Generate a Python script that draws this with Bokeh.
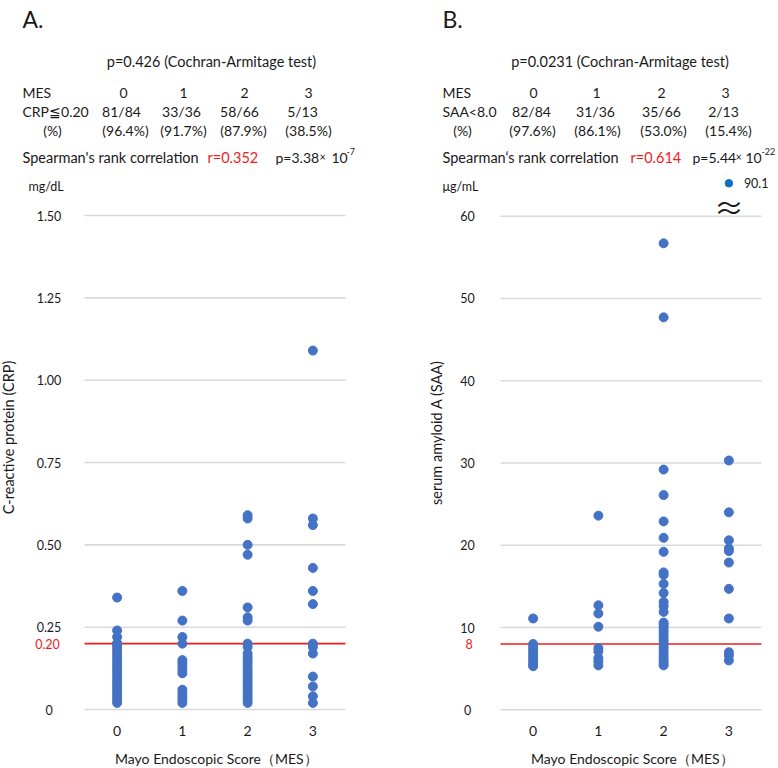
import math
from bokeh.plotting import figure
from bokeh.models import Range1d, Label
from bokeh.layouts import row
from bokeh.embed import file_html
from bokeh.resources import INLINE

# ---------------- data ----------------
mes_levels = [0, 1, 2, 3]
mes_tick_labels = ["0", "1", "2", "3"]

crp_mes0 = [0.34, 0.24, 0.22, 0.20, 0.20, 0.19, 0.18, 0.17, 0.16, 0.15, 0.14, 0.13, 0.12,
            0.11, 0.10, 0.09, 0.08, 0.07, 0.06, 0.05, 0.04, 0.03, 0.02]
crp_mes1 = [0.36, 0.27, 0.22, 0.20, 0.15, 0.14, 0.13, 0.12, 0.11, 0.06, 0.05, 0.04, 0.03, 0.02]
crp_mes2 = [0.59, 0.58, 0.50, 0.47, 0.31, 0.28, 0.27, 0.20, 0.19, 0.17, 0.16, 0.15, 0.14, 0.13,
            0.12, 0.11, 0.10, 0.09, 0.08, 0.07, 0.06, 0.05, 0.04, 0.03, 0.02]
crp_mes3 = [1.09, 0.58, 0.56, 0.43, 0.36, 0.32, 0.20, 0.19, 0.17, 0.10, 0.07, 0.04, 0.02]

saa_mes0 = [11.1, 8.0, 7.6, 7.2, 6.8, 6.4, 6.0, 5.6, 5.3]
saa_mes1 = [23.6, 12.7, 11.7, 10.1, 7.5, 7.1, 6.3, 5.9, 5.4]
saa_mes2 = [56.7, 47.7, 29.2, 26.1, 22.9, 20.9, 19.2, 16.7, 16.4, 15.3, 14.2, 13.1, 12.6, 11.9,
            10.6, 10.3, 10.0, 9.6, 9.2, 8.8, 8.4, 8.0, 7.6, 7.2, 6.8, 6.4, 6.0, 5.7, 5.4]
saa_mes3 = [90.1, 30.3, 24.0, 20.6, 19.6, 19.3, 17.9, 14.7, 11.1, 7.0, 6.6, 6.0]

crp_ticks = [0, 0.25, 0.50, 0.75, 1.00, 1.25, 1.50]
crp_tick_labels = ["0", "0.25", "0.50", "0.75", "1.00", "1.25", "1.50"]
crp_cutoff = 0.20
crp_cutoff_label = "0.20"

saa_ticks = [0, 10, 20, 30, 40, 50, 60]
saa_tick_labels = ["0", "10", "20", "30", "40", "50", "60"]
saa_cutoff = 8
saa_cutoff_label = "8"
saa_axis_break = 60          # values above this are drawn just above the axis break
saa_break_display = 64.0

x_title = "Mayo Endoscopic Score\uff08MES\uff09"

crp_y_title = "C-reactive protein (CRP)"
crp_title = "p=0.426 (Cochran-Armitage test)"
crp_row_name = "CRP\u22660.20"
crp_counts = ["81/84", "33/36", "58/66", "5/13"]
crp_pcts = ["(96.4%)", "(91.7%)", "(87.9%)", "(38.5%)"]
crp_spearman = "Spearman's rank correlation"
crp_r = "r=0.352"
crp_p, crp_p_exp = "p=3.38", "-7"
crp_unit = "mg/dL"

saa_y_title = "serum amyloid A (SAA)"
saa_title = "p=0.0231 (Cochran-Armitage test)"
saa_row_name = "SAA<8.0"
saa_counts = ["82/84", "31/36", "35/66", "2/13"]
saa_pcts = ["(97.6%)", "(86.1%)", "(53.0%)", "(15.4%)"]
saa_spearman = "Spearman\u2018s rank correlation"
saa_r = "r=0.614"
saa_p, saa_p_exp = "p=5.44", "-22"
saa_unit = "\u03bcg/mL"

# ---------------- style / layout ----------------
FONT = "Lato"
TXT = "#1A1A1A"
BLUE = "#4472C4"
BLUE2 = "#0F6FC6"
RED = "#EE1C1C"
GRID = "#D9D9D9"

FIG_W = 389
FIG_H = 768
UNIT_X = 65.25       # px per MES level


def build_panel(groups, ticks, tick_labels, cutoff, cutoff_label, y_title,
                fig_left, plot_left, y0_px, ppu, tick_cx, cut_cx, ytitle_pos,
                break_at=None, break_display=None):
    def xd(wx):
        return -0.5 + (wx - plot_left) / UNIT_X

    def yd(wy):
        return (y0_px - wy) / ppu

    p = figure(width=FIG_W, height=FIG_H, min_border=0,
               min_border_left=0, min_border_right=0, min_border_top=0, min_border_bottom=0,
               x_range=Range1d(xd(fig_left), xd(fig_left + FIG_W)),
               y_range=Range1d(yd(FIG_H), yd(0)),
               x_axis_location=None, y_axis_location=None,
               toolbar_location=None, output_backend="svg", tools="")
    p.outline_line_color = None
    p.background_fill_color = "white"
    p.border_fill_color = "white"
    p.grid.visible = False

    lo, hi = min(mes_levels) - 0.5, max(mes_levels) + 0.5

    def text(t, wx, wy, size, color=TXT, align="left", baseline="alphabetic",
             font=FONT, angle=0.0):
        p.add_layout(Label(x=xd(wx), y=yd(wy), text=t, text_font=font,
                           text_font_size=f"{size}px", text_color=color, angle=angle,
                           text_align=align, text_baseline=baseline))

    def dtext(t, x, y, size, color=TXT, align="center", baseline="middle", x_offset=0,
              font=FONT):
        p.add_layout(Label(x=x, y=y, text=t, text_font=font, x_offset=x_offset,
                           text_font_size=f"{size}px", text_color=color,
                           text_align=align, text_baseline=baseline))

    # horizontal grid lines at the value ticks
    p.segment(x0=[lo] * len(ticks), x1=[hi] * len(ticks), y0=ticks, y1=ticks,
              line_color=GRID, line_width=1.6)
    # value tick labels
    for t, lab in zip(ticks, tick_labels):
        dtext(lab, xd(tick_cx), t, 12.5)
    # cut-off line and its red label
    p.segment(x0=[lo], x1=[hi], y0=[cutoff], y1=[cutoff], line_color=RED, line_width=1.6)
    dtext(cutoff_label, xd(cut_cx), cutoff, 12.5, color=RED)

    # category tick labels and axis titles
    for lvl, lab in zip(mes_levels, mes_tick_labels):
        dtext(lab, lvl, yd(730), 14)
    dtext(x_title, (lo + hi) / 2 + 0.02, yd(758), 14)
    text(y_title, ytitle_pos[0], ytitle_pos[1], 14.5, align="center", baseline="middle",
         angle=math.pi / 2)

    # points
    xs, ys, ox, oy, ov = [], [], [], [], []
    for lvl, vals in zip(mes_levels, groups):
        for v in vals:
            if break_at is not None and v > break_at:
                ox.append(lvl)
                oy.append(break_display)
                ov.append(v)
            else:
                xs.append(lvl)
                ys.append(v)
    p.scatter(xs, ys, size=9, fill_color=BLUE, line_color=BLUE, marker="circle")
    if ox:
        p.scatter(ox, oy, size=7.5, fill_color=BLUE2, line_color=BLUE2, marker="circle")
        for x, y, v in zip(ox, oy, ov):
            dtext(f"{v:.1f}", x, y, 12.5, align="left", x_offset=15)
            # axis-break mark under the off-scale point
            dtext("\u2248", x, yd(205), 30, font="Noto Sans CJK JP")

    return p, text


# ---------------- panel A ----------------
pA, textA = build_panel(
    [crp_mes0, crp_mes1, crp_mes2, crp_mes3], crp_ticks, crp_tick_labels,
    crp_cutoff, crp_cutoff_label, crp_y_title,
    fig_left=0, plot_left=84, y0_px=709.0, ppu=329.3,
    tick_cx=48.5, cut_cx=47, ytitle_pos=(8, 437))

textA("A.", 22, 18, 23)
textA(crp_title, 211, 61, 14.5, align="center")
textA("MES", 22, 92, 14)
for t, cx in zip(mes_tick_labels, [123, 183, 244, 308]):
    textA(t, cx, 92, 14, align="center")
textA(crp_row_name, 22, 111, 14)
for t, cx in zip(crp_counts, [121, 181, 239, 302]):
    textA(t, cx, 111, 14, align="center")
textA("(%)", 52, 130, 14, align="center")
for t, cx in zip(crp_pcts, [125, 183, 243, 308]):
    textA(t, cx, 130, 14, align="center")
textA(crp_spearman, 22, 157, 14.5)
textA(crp_r, 207, 157, 14.5, color=RED)
textA(crp_p, 275, 157, 14)
textA("\u00d7", 319, 156, 11)
textA("10", 331, 157, 14)
textA(crp_p_exp, 346, 151, 9)
textA(crp_unit, 28, 186, 12.5)

# ---------------- panel B ----------------
pB, textB = build_panel(
    [saa_mes0, saa_mes1, saa_mes2, saa_mes3], saa_ticks, saa_tick_labels,
    saa_cutoff, saa_cutoff_label, saa_y_title,
    fig_left=389, plot_left=500, y0_px=709.3, ppu=8.227,
    tick_cx=467, cut_cx=468.5, ytitle_pos=(436, 432),
    break_at=saa_axis_break, break_display=saa_break_display)

textB("B.", 442, 18, 23)
textB(saa_title, 619.5, 61, 14.5, align="center")
textB("MES", 442, 92, 14)
for t, cx in zip(mes_tick_labels, [533, 596, 661, 725]):
    textB(t, cx, 92, 14, align="center")
textB(saa_row_name, 442, 111, 14)
for t, cx in zip(saa_counts, [531, 595, 661, 723]):
    textB(t, cx, 111, 14, align="center")
textB("(%)", 462, 130, 14, align="center")
for t, cx in zip(saa_pcts, [532, 597, 663, 728]):
    textB(t, cx, 130, 14, align="center")
textB(saa_spearman, 442, 157, 14.5)
textB(saa_r, 630, 157, 14.5, color=RED)
textB(saa_p, 692, 157, 14)
textB("\u00d7", 735, 156, 11)
textB("10", 745, 157, 14)
textB(saa_p_exp, 761, 151, 9)
textB(saa_unit, 442, 186, 12.5)

layout = row(pA, pB)
open("out.html", "w").write(file_html(layout, INLINE))
